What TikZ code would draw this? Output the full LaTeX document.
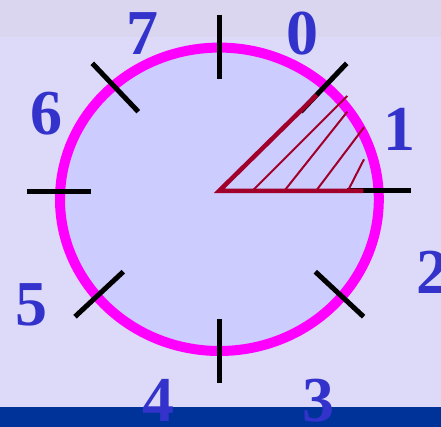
\documentclass[tikz,border=0pt]{standalone}
\usepackage{fontspec}
\setmainfont{Liberation Serif}
\definecolor{bg}{HTML}{DDD9F8}
\definecolor{topbg}{HTML}{DAD6F0}
\definecolor{disc}{HTML}{CCCCFF}
\definecolor{ring}{HTML}{FF00FF}
\definecolor{sect}{HTML}{A0002A}
\definecolor{lab}{HTML}{3333CC}
\definecolor{band}{HTML}{003399}
\begin{document}
\begin{tikzpicture}[x=1pt,y=-1pt,
  tick/.style={line width=5pt, black},
  edge/.style={line width=4.5pt, sect, line join=miter},
  hatch/.style={line width=2pt, sect},
  digit/.style={text=lab, font=\fontsize{64}{64}\selectfont\bfseries, inner sep=0pt}]
\useasboundingbox (0,0) rectangle (441,427);
\fill[bg] (0,0) rectangle (441,427);
\fill[topbg] (0,0) rectangle (441,37);
% dial
\filldraw[fill=disc, draw=ring, line width=10pt] (219.4,199.3) ellipse [x radius=159.4, y radius=151.7];
% ticks
\coordinate (t0a) at (219,15);   \coordinate (t0b) at (219,79);
\coordinate (t4a) at (219,319);  \coordinate (t4b) at (219,383);
\coordinate (t6a) at (27.3,191.5); \coordinate (t6b) at (91.3,191.5);
\coordinate (t2a) at (347,191);  \coordinate (t2b) at (411.3,191);
\coordinate (t7a) at (92.3,63.3); \coordinate (t7b) at (138.3,111.7);
\coordinate (t1a) at (346.7,63.3); \coordinate (t1b) at (300.7,111.7);
\coordinate (t5a) at (123.3,271.7); \coordinate (t5b) at (75,316.7);
\coordinate (t3a) at (315.3,271.7); \coordinate (t3b) at (363.6,316.7);
\foreach \k in {0,...,7} {\draw[tick] (t\k a) -- (t\k b);}
% sector
\coordinate (O) at (219,191);
\coordinate (A) at (316.7,95);
\coordinate (B) at (363.3,191);
\draw[edge] (A) -- (O) -- (B);
\coordinate (h1a) at (253.3,190); \coordinate (h1b) at (347.3,96);
\coordinate (h2a) at (285,190);   \coordinate (h2b) at (347.3,111.7);
\coordinate (h3a) at (316.7,190); \coordinate (h3b) at (364,127.3);
\coordinate (h4a) at (348.3,190); \coordinate (h4b) at (364,159.3);
\foreach \k in {1,...,4} {\draw[hatch] (h\k a) -- (h\k b);}
% bottom band
\fill[band] (0,406.7) rectangle (441,427);
% labels
\node[digit] (l0) at (302,33.5) {0};
\node[digit] (l1) at (399,129) {1};
\node[digit] (l2) at (432,272.5) {2};
\node[digit] (l3) at (318.7,400.5) {3};
\node[digit] (l4) at (158.7,400.5) {4};
\node[digit] (l5) at (31,305) {5};
\node[digit] (l6) at (46.7,113.8) {6};
\node[digit] (l7) at (142,33.5) {7};
\end{tikzpicture}
\end{document}
